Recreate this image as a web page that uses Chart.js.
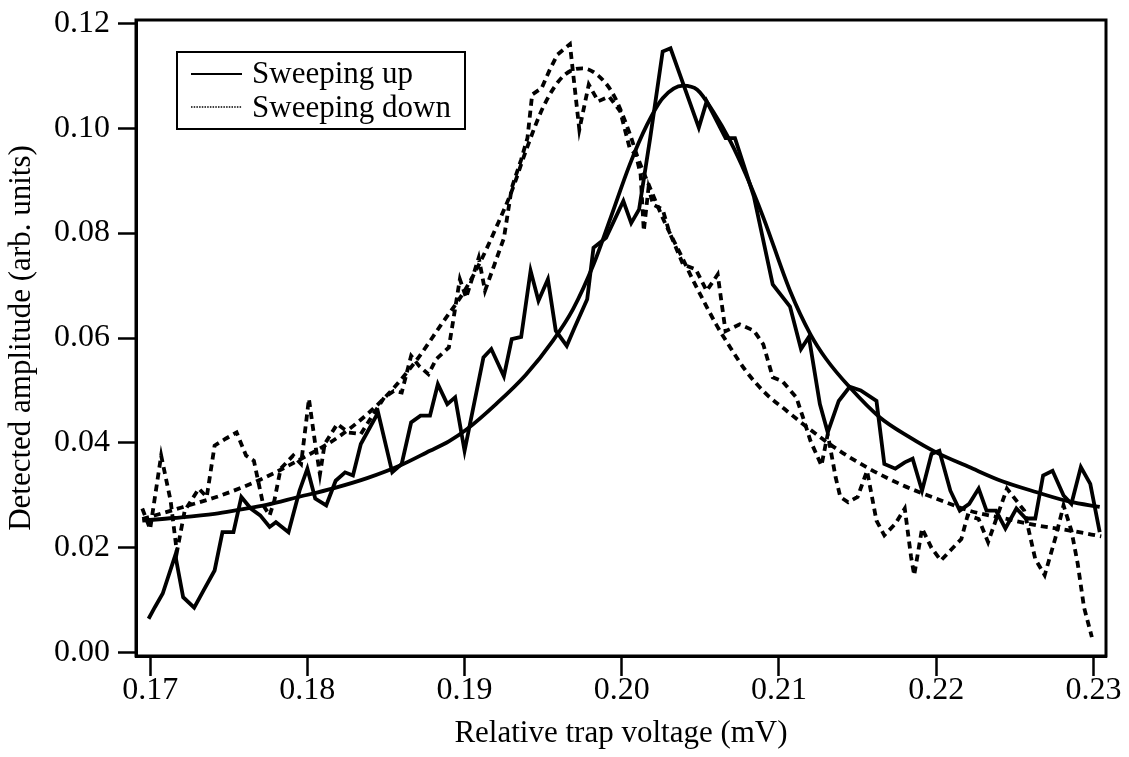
<!DOCTYPE html>
<html>
<head>
<meta charset="utf-8">
<script src="https://cdn.jsdelivr.net/npm/chart.js@4.4.1/dist/chart.umd.min.js"></script>
<style>
  html, body { margin: 0; padding: 0; background: #fff; }
  #wrap { width: 1129px; height: 757px; }
</style>
</head>
<body>
<div id="wrap"><canvas id="c" width="1129" height="757"></canvas></div>
<script>
// ---- Data ----
const xTicks = [0.17, 0.18, 0.19, 0.20, 0.21, 0.22, 0.23];
const yTicks = [0.00, 0.02, 0.04, 0.06, 0.08, 0.10, 0.12];

const seriesLabels = ["Sweeping up", "Sweeping down"];

const upDataX = [0.1699,0.1703,0.1708,0.1716,0.1721,0.1728,0.1734,0.1741,0.1746,0.1753,0.1758,0.1764,0.1770,0.1776,0.1780,0.1788,0.1795,0.1800,0.1805,0.1812,0.1818,0.1824,0.1829,0.1834,0.1845,0.1854,0.1860,0.1866,0.1872,0.1878,0.1883,0.1889,0.1894,0.1900,0.1912,0.1917,0.1925,0.1930,0.1936,0.1942,0.1947,0.1953,0.1958,0.1965,0.1970,0.1978,0.1982,0.1990,0.2001,0.2006,0.2011,0.2018,0.2026,0.2031,0.2049,0.2054,0.2066,0.2072,0.2084,0.2096,0.2107,0.2114,0.2119,0.2126,0.2131,0.2138,0.2145,0.2152,0.2162,0.2167,0.2174,0.2180,0.2185,0.2191,0.2197,0.2202,0.2209,0.2215,0.2221,0.2227,0.2232,0.2238,0.2244,0.2251,0.2257,0.2263,0.2268,0.2274,0.2281,0.2286,0.2292,0.2298,0.2304];
const upDataY = [0.0065,0.0087,0.0113,0.0186,0.0106,0.0086,0.0119,0.0157,0.0230,0.0230,0.0297,0.0275,0.0262,0.0240,0.0249,0.0230,0.0309,0.0351,0.0294,0.0281,0.0328,0.0344,0.0338,0.0398,0.0458,0.0344,0.0360,0.0439,0.0452,0.0452,0.0512,0.0474,0.0487,0.0385,0.0563,0.0579,0.0527,0.0598,0.0602,0.0728,0.0671,0.0712,0.0614,0.0585,0.0620,0.0674,0.0772,0.0791,0.0861,0.0819,0.0845,0.0980,0.1146,0.1152,0.1001,0.1051,0.0981,0.0981,0.0870,0.0702,0.0660,0.0579,0.0602,0.0474,0.0420,0.0480,0.0507,0.0500,0.0480,0.0360,0.0351,0.0363,0.0370,0.0309,0.0379,0.0385,0.0309,0.0271,0.0284,0.0313,0.0271,0.0271,0.0237,0.0275,0.0256,0.0256,0.0338,0.0347,0.0300,0.0284,0.0354,0.0322,0.0230];

const upFitX = [0.1695,0.1715,0.1741,0.1757,0.1774,0.1793,0.1817,0.1838,0.1859,0.1878,0.1890,0.1901,0.1920,0.1939,0.1956,0.1969,0.1982,0.1993,0.2005,0.2016,0.2026,0.2039,0.2048,0.2058,0.2069,0.2079,0.2090,0.2107,0.2120,0.2130,0.2145,0.2164,0.2183,0.2200,0.2221,0.2242,0.2264,0.2285,0.2304];
const upFitY = [0.0252,0.0257,0.0265,0.0273,0.0282,0.0296,0.0314,0.0333,0.0357,0.0385,0.0403,0.0425,0.0474,0.0530,0.0594,0.0655,0.0740,0.0830,0.0930,0.1006,0.1057,0.1081,0.1073,0.1032,0.0975,0.0911,0.0830,0.0690,0.0607,0.0560,0.0506,0.0449,0.0411,0.0382,0.0354,0.0327,0.0306,0.0288,0.0278];

const downDataX = [0.1695,0.1700,0.1707,0.1713,0.1717,0.1722,0.1731,0.1736,0.1741,0.1748,0.1755,0.1761,0.1766,0.1772,0.1776,0.1779,0.1783,0.1791,0.1796,0.1801,0.1805,0.1808,0.1811,0.1819,0.1826,0.1834,0.1842,0.1849,0.1855,0.1860,0.1866,0.1871,0.1877,0.1882,0.1890,0.1897,0.1901,0.1909,0.1913,0.1919,0.1925,0.1930,0.1936,0.1940,0.1943,0.1949,0.1954,0.1959,0.1967,0.1973,0.1979,0.1985,0.1992,0.1999,0.2005,0.2009,0.2012,0.2014,0.2017,0.2020,0.2026,0.2030,0.2039,0.2047,0.2054,0.2061,0.2066,0.2075,0.2084,0.2090,0.2096,0.2102,0.2111,0.2116,0.2120,0.2127,0.2131,0.2136,0.2139,0.2144,0.2150,0.2156,0.2162,0.2167,0.2174,0.2180,0.2184,0.2186,0.2191,0.2197,0.2203,0.2209,0.2216,0.2220,0.2227,0.2233,0.2239,0.2245,0.2251,0.2256,0.2263,0.2269,0.2276,0.2281,0.2286,0.2290,0.2294,0.2299];
const downDataY = [0.0275,0.0236,0.0376,0.0290,0.0192,0.0271,0.0313,0.0297,0.0395,0.0408,0.0420,0.0376,0.0366,0.0281,0.0262,0.0290,0.0351,0.0376,0.0360,0.0484,0.0398,0.0340,0.0398,0.0436,0.0420,0.0417,0.0455,0.0487,0.0499,0.0496,0.0566,0.0547,0.0531,0.0560,0.0582,0.0712,0.0677,0.0753,0.0690,0.0740,0.0790,0.0886,0.0940,0.0981,0.1064,0.1076,0.1110,0.1140,0.1160,0.0997,0.1083,0.1051,0.1060,0.1032,0.0962,0.0949,0.0911,0.0804,0.0886,0.0854,0.0845,0.0804,0.0740,0.0731,0.0690,0.0721,0.0613,0.0626,0.0614,0.0588,0.0525,0.0518,0.0487,0.0442,0.0404,0.0357,0.0417,0.0335,0.0297,0.0287,0.0297,0.0347,0.0252,0.0224,0.0246,0.0275,0.0183,0.0148,0.0237,0.0200,0.0176,0.0195,0.0217,0.0262,0.0255,0.0211,0.0262,0.0313,0.0290,0.0271,0.0179,0.0148,0.0221,0.0281,0.0233,0.0170,0.0087,0.0030];

const downFitX = [0.1695,0.1720,0.1745,0.1770,0.1795,0.1820,0.1840,0.1855,0.1870,0.1885,0.1900,0.1910,0.1920,0.1930,0.1940,0.1950,0.1960,0.1968,0.1975,0.1985,0.1995,0.2005,0.2010,0.2018,0.2028,0.2037,0.2045,0.2052,0.2060,0.2069,0.2079,0.2092,0.2105,0.2117,0.2136,0.2158,0.2179,0.2200,0.2221,0.2242,0.2264,0.2285,0.2305];
const downFitY = [0.0255,0.0277,0.0300,0.0330,0.0368,0.0412,0.0460,0.0505,0.0560,0.0625,0.0690,0.0745,0.0810,0.0880,0.0965,0.1040,0.1090,0.1110,0.1114,0.1100,0.1062,0.0990,0.0945,0.0886,0.0816,0.0762,0.0712,0.0671,0.0626,0.0582,0.0537,0.0493,0.0461,0.0432,0.0390,0.0350,0.0319,0.0294,0.0271,0.0257,0.0243,0.0233,0.0222];

// ---- helpers ----
const pts = (xs, ys) => xs.map((x, i) => ({ x: x, y: ys[i] }));
const SERIF = "'Liberation Serif', 'Times New Roman', serif";
const DASH = [7, 5];

const frameAndLegend = {
  id: 'frameAndLegend',
  afterDraw(chart) {
    const { ctx, chartArea: a } = chart;
    ctx.save();
    // full frame around plot area
    ctx.strokeStyle = '#000';
    ctx.lineWidth = 3;
    ctx.setLineDash([]);
    ctx.strokeRect(a.left, a.top, a.right - a.left, a.bottom - a.top);

    // legend box
    const bx = a.left + 41, by = a.top + 32, bw = 288, bh = 77;
    ctx.lineWidth = 2;
    ctx.strokeRect(bx, by, bw, bh);
    ctx.font = '31px ' + SERIF;
    ctx.fillStyle = '#000';
    ctx.textBaseline = 'alphabetic';
    ctx.textAlign = 'left';
    // entry 1: solid
    ctx.beginPath();
    ctx.moveTo(bx + 14, by + 22); ctx.lineTo(bx + 65, by + 22);
    ctx.lineWidth = 2; ctx.setLineDash([]); ctx.stroke();
    ctx.fillText(seriesLabels[0], bx + 75, by + 31);
    // entry 2: fine dotted
    ctx.beginPath();
    ctx.moveTo(bx + 14, by + 55); ctx.lineTo(bx + 65, by + 55);
    ctx.lineWidth = 1.5; ctx.setLineDash([1.5, 1.2]); ctx.stroke();
    ctx.setLineDash([]);
    ctx.fillText(seriesLabels[1], bx + 75, by + 65);
    ctx.restore();
  }
};

const common = { pointRadius: 0, borderColor: '#000', backgroundColor: '#000', fill: false, showLine: true, borderWidth: 3.8 };

new Chart(document.getElementById('c'), {
  type: 'scatter',
  data: {
    datasets: [
      Object.assign({ label: seriesLabels[0], data: pts(upDataX, upDataY), tension: 0 }, common),
      Object.assign({ label: seriesLabels[0] + ' fit', data: pts(upFitX, upFitY), cubicInterpolationMode: 'monotone' }, common),
      Object.assign({ label: seriesLabels[1], data: pts(downDataX, downDataY), tension: 0, borderDash: DASH }, common),
      Object.assign({ label: seriesLabels[1] + ' fit', data: pts(downFitX, downFitY), cubicInterpolationMode: 'monotone', borderDash: DASH }, common)
    ]
  },
  options: {
    responsive: false,
    animation: false,
    devicePixelRatio: 1,
    layout: { padding: { top: 20, right: 23, bottom: 0, left: 0 } },
    plugins: { legend: { display: false }, tooltip: { enabled: false } },
    scales: {
      x: {
        type: 'linear',
        min: 0.1691, max: 0.2308,
        afterFit: s => { s.height = 101; s.paddingLeft = 0; s.paddingRight = 0; },
        afterBuildTicks: s => { s.ticks = xTicks.map(v => ({ value: v })); },
        grid: { display: true, drawOnChartArea: false, drawTicks: true, tickLength: 20, tickColor: '#000', tickWidth: 2.5, color: '#000' },
        border: { display: true, color: '#000', width: 3 },
        ticks: { color: '#000', padding: -5, maxRotation: 0, autoSkip: false, font: { family: SERIF, size: 32 }, callback: v => v.toFixed(2) },
        title: { display: true, text: 'Relative trap voltage (mV)', color: '#000', font: { family: SERIF, size: 31 }, padding: { top: 0, bottom: 5 } }
      },
      y: {
        type: 'linear',
        min: -0.0006, max: 0.1206,
        afterFit: s => { s.width = 136; s.paddingTop = 0; s.paddingBottom = 0; },
        afterBuildTicks: s => { s.ticks = yTicks.map(v => ({ value: v })); },
        grid: { display: true, drawOnChartArea: false, drawTicks: true, tickLength: 18, tickColor: '#000', tickWidth: 2.5, color: '#000' },
        border: { display: true, color: '#000', width: 3 },
        ticks: { color: '#000', padding: 8, autoSkip: false, font: { family: SERIF, size: 32 }, callback: v => v.toFixed(2) },
        title: { display: true, text: 'Detected amplitude (arb. units)', color: '#000', font: { family: SERIF, size: 31 }, padding: { top: 3, bottom: 0 } }
      }
    }
  },
  plugins: [frameAndLegend]
});
</script>
</body>
</html>
